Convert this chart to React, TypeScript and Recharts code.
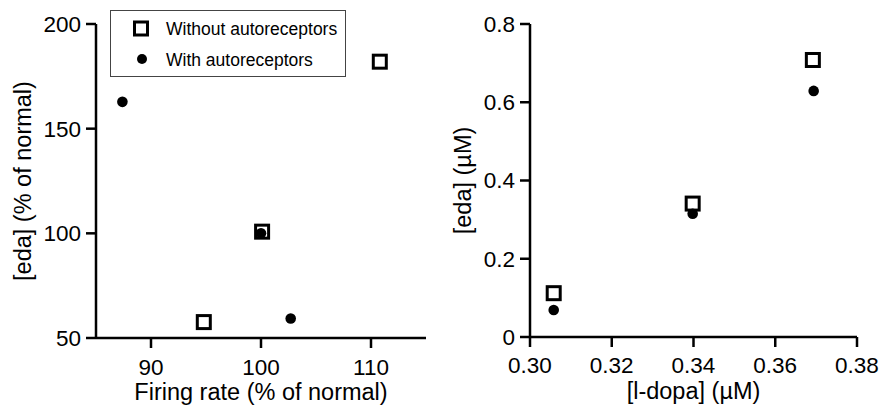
import React from 'react';
import { ScatterChart, Scatter, XAxis, YAxis, Legend, Label } from 'recharts';

// Left panel: firing rate vs [eda] (% of normal)
const firingWithout = [94.8, 100.1, 110.8];
const edaPctWithout = [57.6, 100.8, 182];
const firingWith = [87.4, 100.0, 102.7];
const edaPctWith = [162.8, 100.0, 59.3];

// Right panel: [l-dopa] vs [eda] (µM)
const ldopaWithout = [0.3058, 0.3398, 0.3692];
const edaUMWithout = [0.112, 0.341, 0.708];
const ldopaWith = [0.3058, 0.3398, 0.3694];
const edaUMWith = [0.069, 0.315, 0.629];

const leftXTicks = [90, 100, 110];
const leftYTicks = [50, 100, 150, 200];
const rightXTicks = [0.3, 0.32, 0.34, 0.36, 0.38];
const rightYTicks = [0, 0.2, 0.4, 0.6, 0.8];

const seriesNames = ['Without autoreceptors', 'With autoreceptors'];

const FONT = '"Liberation Sans", Arial, sans-serif';

const zip = (xs: number[], ys: number[]) => xs.map((x, i) => ({ x, y: ys[i] }));

const leftWithout = zip(firingWithout, edaPctWithout);
const leftWith = zip(firingWith, edaPctWith);
const rightWithout = zip(ldopaWithout, edaUMWithout);
const rightWith = zip(ldopaWith, edaUMWith);

const SquareShape = (props: any) => {
  const { cx, cy } = props;
  if (cx == null || cy == null) return null;
  const s = 13;
  return <rect x={cx - s / 2} y={cy - s / 2} width={s} height={s} fill="#fff" stroke="#000" strokeWidth={3} />;
};

const DotShape = (props: any) => {
  const { cx, cy } = props;
  if (cx == null || cy == null) return null;
  return <circle cx={cx} cy={cy} r={5.3} fill="#000" stroke="none" />;
};

const tickStyle = { fill: '#000', fontSize: 22.5, fontFamily: FONT };
const lineStyle = { stroke: '#000', strokeWidth: 2.5 };

const makeYTitle = (text: string) => (props: any) => {
  const vb = props.viewBox || { x: 0, y: 24, width: 96, height: 314 };
  const cx = vb.x + 23;
  const cy = vb.y + vb.height / 2;
  return (
    <text
      x={cx}
      y={cy}
      transform={`rotate(-90 ${cx} ${cy})`}
      textAnchor="middle"
      dominantBaseline="central"
      fill="#000"
      fontSize={23.5}
      fontFamily={FONT}
    >
      {text}
    </text>
  );
};

const makeXTitle = (text: string) => (props: any) => {
  const vb = props.viewBox || { x: 96, y: 338, width: 330, height: 69 };
  const cx = vb.x + vb.width / 2;
  const by = vb.y + 62;
  return (
    <text x={cx} y={by} textAnchor="middle" fill="#000" fontSize={23.5} fontFamily={FONT}>
      {text}
    </text>
  );
};

const LegendBox = () => (
  <svg width={236} height={67} style={{ display: 'block' }}>
    <rect x={0.5} y={0.5} width={235} height={66} fill="#fff" stroke="#444" strokeWidth={1} />
    <rect x={24.5} y={12} width={13} height={13} fill="#fff" stroke="#000" strokeWidth={3} />
    <circle cx={32} cy={49} r={5} fill="#000" />
    <text x={56} y={24.5} fill="#000" fontSize={17.5} fontFamily={FONT}>
      {seriesNames[0]}
    </text>
    <text x={56} y={55.5} fill="#000" fontSize={17.5} fontFamily={FONT}>
      {seriesNames[1]}
    </text>
  </svg>
);

export default function App() {
  return (
    <div style={{ position: 'absolute', left: 0, top: 0, width: 879, height: 407, background: '#fff' }}>
      <div style={{ position: 'absolute', left: 0, top: 0 }}>
        <ScatterChart width={440} height={407} margin={{ top: 24, right: 14, bottom: 0, left: 0 }}>
          <XAxis
            type="number"
            dataKey="x"
            domain={[85, 115]}
            ticks={leftXTicks}
            allowDataOverflow
            height={69}
            tick={tickStyle}
            tickLine={lineStyle}
            axisLine={lineStyle}
            tickSize={10}
            tickMargin={11}
          >
            <Label content={makeXTitle('Firing rate (% of normal)')} />
          </XAxis>
          <YAxis
            type="number"
            dataKey="y"
            domain={[50, 200]}
            ticks={leftYTicks}
            allowDataOverflow
            width={96}
            tick={tickStyle}
            tickLine={lineStyle}
            axisLine={lineStyle}
            tickSize={10}
            tickMargin={5}
          >
            <Label content={makeYTitle('[eda] (% of normal)')} />
          </YAxis>
          <Legend
            layout="horizontal"
            verticalAlign="middle"
            align="center"
            content={() => <LegendBox />}
            wrapperStyle={{ position: 'absolute', left: 110, top: 10, width: 236, height: 67 }}
          />
          <Scatter name={seriesNames[0]} data={leftWithout} shape={SquareShape} isAnimationActive={false} />
          <Scatter name={seriesNames[1]} data={leftWith} shape={DotShape} isAnimationActive={false} />
        </ScatterChart>
      </div>
      <div style={{ position: 'absolute', left: 440, top: 0 }}>
        <ScatterChart width={439} height={407} margin={{ top: 24, right: 22, bottom: 0, left: 0 }}>
          <XAxis
            type="number"
            dataKey="x"
            domain={[0.3, 0.38]}
            ticks={rightXTicks}
            allowDataOverflow
            height={70}
            tick={tickStyle}
            tickLine={lineStyle}
            axisLine={lineStyle}
            tickSize={10}
            tickMargin={10}
            tickFormatter={(v: number) => v.toFixed(2)}
          >
            <Label content={makeXTitle('[l-dopa] (µM)')} />
          </XAxis>
          <YAxis
            type="number"
            dataKey="y"
            domain={[0, 0.8]}
            ticks={rightYTicks}
            allowDataOverflow
            width={90}
            tick={tickStyle}
            tickLine={lineStyle}
            axisLine={lineStyle}
            tickSize={10}
            tickMargin={5}
            tickFormatter={(v: number) => (v === 0 ? '0' : v.toFixed(1))}
          >
            <Label content={makeYTitle('[eda] (µM)')} />
          </YAxis>
          <Scatter name={seriesNames[0]} data={rightWithout} shape={SquareShape} isAnimationActive={false} />
          <Scatter name={seriesNames[1]} data={rightWith} shape={DotShape} isAnimationActive={false} />
        </ScatterChart>
      </div>
    </div>
  );
}
